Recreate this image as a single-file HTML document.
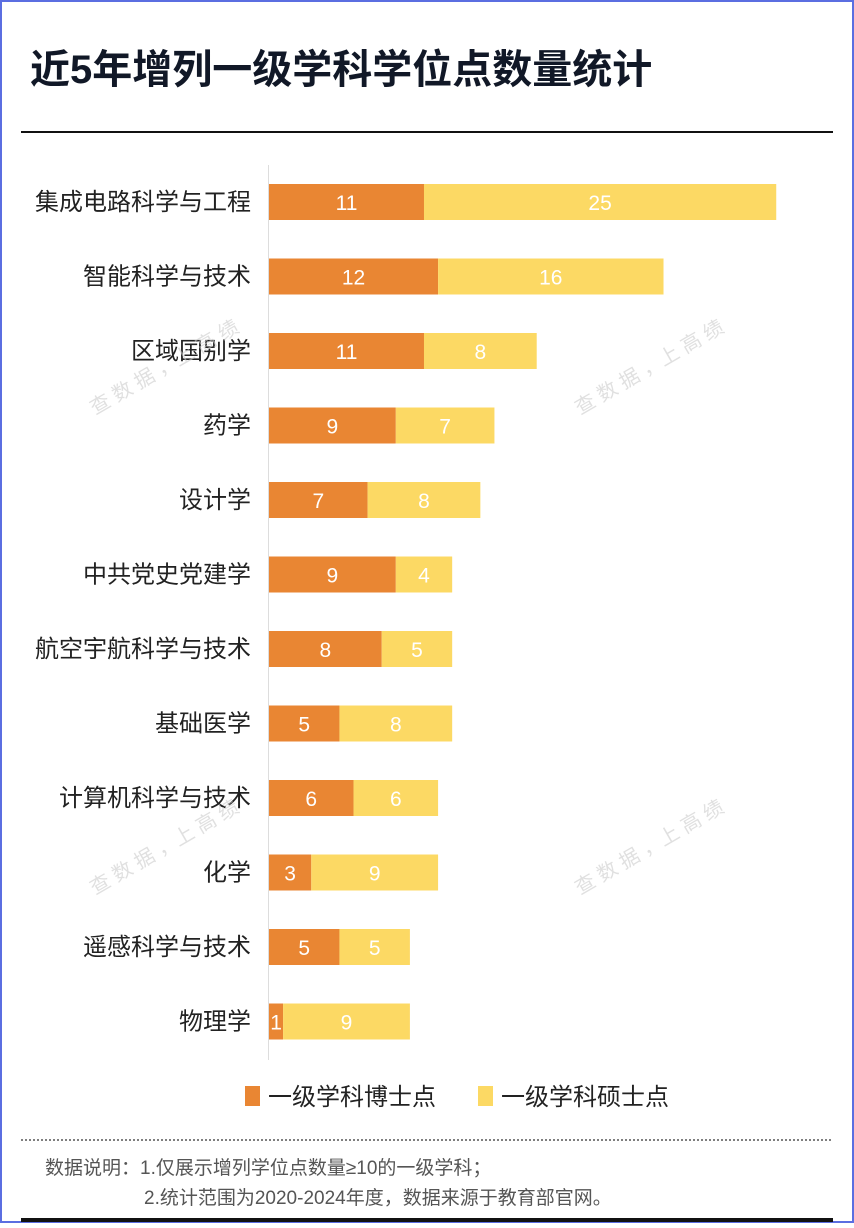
<!DOCTYPE html>
<html><head><meta charset="utf-8"><style>
html,body{margin:0;padding:0;background:#fff}
body{width:854px;height:1223px;overflow:hidden}
text{font-family:"Liberation Sans","Noto Sans CJK SC",sans-serif}
</style></head><body>
<svg width="854" height="1223" viewBox="0 0 854 1223" xmlns="http://www.w3.org/2000/svg">
<rect x="1" y="1" width="852" height="1221" fill="#fff" stroke="#5b6ee1" stroke-width="2"/>
<text x="30" y="83" font-size="40" font-weight="bold" fill="#111827" font-family="'Noto Sans CJK SC',sans-serif">近5年增列一级学科学位点数量统计</text>
<rect x="21" y="131" width="812" height="2" fill="#111"/>
<line x1="268.5" y1="165" x2="268.5" y2="1060" stroke="#ddd" stroke-width="1"/>
<g id="bars"></g>
<g fill="#ccc" font-size="20" opacity="0.6" font-family="'Noto Sans CJK SC',sans-serif">
<text transform="translate(95,415) rotate(-30)">查 数 据 ，上 高 绩</text>
<text transform="translate(580,415) rotate(-30)">查 数 据 ，上 高 绩</text>
<text transform="translate(95,895) rotate(-30)">查 数 据 ，上 高 绩</text>
<text transform="translate(580,895) rotate(-30)">查 数 据 ，上 高 绩</text>
</g>
<rect x="245" y="1086" width="15" height="20" fill="#e98633"/>
<text x="268" y="1105" font-size="24" fill="#222">一级学科博士点</text>
<rect x="478" y="1086" width="15" height="20" fill="#fcd964"/>
<text x="501" y="1105" font-size="24" fill="#222">一级学科硕士点</text>
<line x1="21" y1="1140" x2="833" y2="1140" stroke="#333" stroke-width="1.2" stroke-dasharray="2,2"/>
<text x="45" y="1174" font-size="19" fill="#555">数据说明：1.仅展示增列学位点数量≥10的一级学科；</text>
<text x="144" y="1204" font-size="19" fill="#555">2.统计范围为2020-2024年度，数据来源于教育部官网。</text>
<rect x="21" y="1218" width="812" height="4" fill="#111"/>
</svg>
<script>
var d=[["集成电路科学与工程",11,25],["智能科学与技术",12,16],["区域国别学",11,8],["药学",9,7],["设计学",7,8],["中共党史党建学",9,4],["航空宇航科学与技术",8,5],["基础医学",5,8],["计算机科学与技术",6,6],["化学",3,9],["遥感科学与技术",5,5],["物理学",1,9]];
var s=14.09,x0=269,h="";
d.forEach(function(r,i){var cy=202+i*74.5,y=cy-18,w1=r[1]*s,w2=r[2]*s;
h+='<rect x="'+x0+'" y="'+y+'" width="'+w1+'" height="36" fill="#e98633"/>';
h+='<rect x="'+(x0+w1)+'" y="'+y+'" width="'+w2+'" height="36" fill="#fcd964"/>';
h+='<text x="'+(x0+w1/2)+'" y="'+(cy+8)+'" font-size="21" fill="#fff" text-anchor="middle">'+r[1]+'</text>';
h+='<text x="'+(x0+w1+w2/2)+'" y="'+(cy+8)+'" font-size="21" fill="#fff" text-anchor="middle">'+r[2]+'</text>';
h+='<text x="251" y="'+(cy+8)+'" font-size="24" fill="#222" text-anchor="end">'+r[0]+'</text>';});
document.getElementById('bars').outerHTML=h;
</script>
</body></html>
